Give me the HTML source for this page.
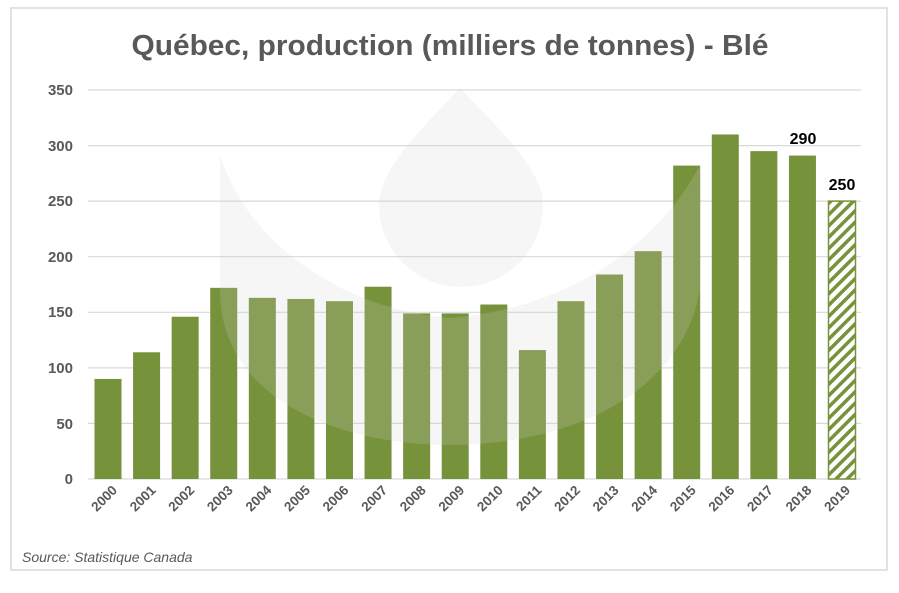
<!DOCTYPE html>
<html><head><meta charset="utf-8"><style>
html,body{margin:0;padding:0;background:#fff;}
svg{display:block;font-family:"Liberation Sans",sans-serif;}
</style></head><body>
<svg width="899" height="593" viewBox="0 0 899 593" xmlns="http://www.w3.org/2000/svg">
<defs>
<pattern id="h" patternUnits="userSpaceOnUse" width="8" height="8" patternTransform="rotate(45)">
<rect width="8" height="8" fill="#fff"/><rect width="3.5" height="8" fill="#76923b"/>
</pattern>
</defs>
<rect x="11" y="8" width="876" height="562" fill="#fff" stroke="#d9d9d9" stroke-width="1.5"/>
<text x="450" y="55" text-anchor="middle" font-size="29" font-weight="bold" fill="#595959" textLength="637" lengthAdjust="spacingAndGlyphs">Québec, production (milliers de tonnes) - Blé</text>
<g stroke="#d9d9d9" stroke-width="1.2">
<line x1="88" x2="861" y1="90" y2="90"/><line x1="88" x2="861" y1="145.6" y2="145.6"/>
<line x1="88" x2="861" y1="201.1" y2="201.1"/><line x1="88" x2="861" y1="256.7" y2="256.7"/>
<line x1="88" x2="861" y1="312.3" y2="312.3"/><line x1="88" x2="861" y1="367.9" y2="367.9"/>
<line x1="88" x2="861" y1="423.4" y2="423.4"/><line x1="88" x2="861" y1="479" y2="479"/>
</g>
<g font-size="15" font-weight="bold" fill="#595959" text-anchor="end">
<text x="73" y="95">350</text><text x="73" y="151">300</text><text x="73" y="206">250</text>
<text x="73" y="262">200</text><text x="73" y="317">150</text><text x="73" y="373">100</text>
<text x="73" y="429">50</text><text x="73" y="484">0</text>
</g>
<g fill="#76923b" id="bars"></g>
<g id="wm" fill="rgba(210,210,210,0.2)">
<path d="M220,155 C250,250 350,310 450,318 C550,310 650,260 700,165 L700,290 C680,400 560,445 450,445 C340,445 220,400 220,290 Z"/>
<path d="M460,88 C500,130 543,170 543,205 A82,82 0 0 1 379,205 C379,170 420,130 460,88 Z"/>
</g>
<rect x="828.5" y="201.1" width="27" height="277.9" fill="url(#h)" stroke="#76923b" stroke-width="1.5"/>
<text x="803" y="144" text-anchor="middle" font-size="16" font-weight="bold" fill="#000">290</text>
<text x="842" y="190" text-anchor="middle" font-size="16" font-weight="bold" fill="#000">250</text>
<g id="xl" font-size="13.5" font-weight="bold" fill="#595959"></g>
<text x="22" y="562" font-size="14" font-style="italic" fill="#595959">Source: Statistique Canada</text>
<script>
var v=[90,114,146,172,163,162,160,173,149,149,157,116,160,184,205,282,310,295,291];
var ns="http://www.w3.org/2000/svg",b=document.getElementById("bars"),xl=document.getElementById("xl");
for(var i=0;i<20;i++){var c=108+i*38.58;
if(i<19){var r=document.createElementNS(ns,"rect");var h=v[i]*55.57/50;
r.setAttribute("x",c-13.5);r.setAttribute("y",479-h);r.setAttribute("width",27);r.setAttribute("height",h);b.appendChild(r);}
var t=document.createElementNS(ns,"text");t.setAttribute("text-anchor","end");
t.setAttribute("transform","translate("+(c+10)+",491) rotate(-45)");t.textContent=2000+i;xl.appendChild(t);}
</script>
</svg>
</body></html>
